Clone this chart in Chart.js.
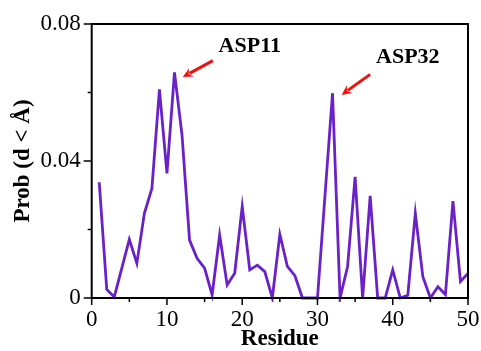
<!DOCTYPE html>
<html>
<head>
<meta charset="utf-8">
<script src="https://cdn.jsdelivr.net/npm/chart.js@4/dist/chart.umd.min.js"></script>
<style>
  body { margin: 0; background: #fff; }
  #wrap { width: 481px; height: 351px; }
</style>
</head>
<body>
<div id="wrap"><canvas id="grafico"></canvas></div>
<script>
// residue numbers and contact probability
const residuos = [1, 2, 3, 4, 5, 6, 7, 8, 9, 10,
  11, 12, 13, 14, 15, 16, 17, 18, 19, 20,
  21, 22, 23, 24, 25, 26, 27, 28, 29, 30,
  31, 32, 33, 34, 35, 36, 37, 38, 39, 40,
  41, 42, 43, 44, 45, 46, 47, 48, 49, 50];
const prob = [0.0338, 0.0025, 0.0003, 0.0087, 0.0171, 0.0101, 0.0247, 0.0320, 0.0609, 0.0364,
  0.0659, 0.0476, 0.0169, 0.0116, 0.0087, 0.0009, 0.0184, 0.0038, 0.0072, 0.0267,
  0.0082, 0.0096, 0.0077, 0.0000, 0.0186, 0.0092, 0.0065, 0.0000, 0.0000, 0.0000,
  0.0300, 0.0598, 0.0000, 0.0092, 0.0354, 0.0000, 0.0298, 0.0000, 0.0000, 0.0082,
  0.0000, 0.0008, 0.0247, 0.0062, 0.0000, 0.0033, 0.0010, 0.0283, 0.0048, 0.0072];

const xMaiores = [0, 10, 20, 30, 40, 50];
const xMenores = [5, 15, 25, 35, 45];
const yMaiores = [0, 0.04, 0.08];
const yMenores = [0.02, 0.06];

// labels with arrows: [text, textX, textY, tailX, tailY, headX, headY] in data units
const anotacoes = [
  ['ASP11', 21.0, 0.0736, 16.1, 0.0693, 12.1, 0.0645],
  ['ASP32', 42.0, 0.0704, 37.0, 0.0653, 33.2, 0.0593]
];

const serif = "'Liberation Serif', 'Times New Roman', serif";

function desenhaSeta(ctx, x1, y1, x2, y2) {
  const ang = Math.atan2(y2 - y1, x2 - x1);
  const tam = 11;
  ctx.strokeStyle = '#f01010';
  ctx.fillStyle = '#f01010';
  ctx.lineWidth = 3;
  ctx.beginPath();
  ctx.moveTo(x1, y1);
  ctx.lineTo(x2 - Math.cos(ang) * tam * 0.7, y2 - Math.sin(ang) * tam * 0.7);
  ctx.stroke();
  ctx.beginPath();
  ctx.moveTo(x2, y2);
  ctx.lineTo(x2 - tam * Math.cos(ang - 0.45), y2 - tam * Math.sin(ang - 0.45));
  ctx.lineTo(x2 - tam * 0.6 * Math.cos(ang), y2 - tam * 0.6 * Math.sin(ang));
  ctx.lineTo(x2 - tam * Math.cos(ang + 0.45), y2 - tam * Math.sin(ang + 0.45));
  ctx.closePath();
  ctx.fill();
}

const moldura = {
  id: 'moldura',
  afterDraw(chart) {
    const ctx = chart.ctx;
    const area = chart.chartArea;
    const sx = chart.scales.x, sy = chart.scales.y;
    ctx.save();
    ctx.strokeStyle = '#000';
    ctx.lineWidth = 2;
    ctx.strokeRect(area.left, area.top, area.right - area.left, area.bottom - area.top);
    ctx.lineWidth = 1.5;
    ctx.beginPath();
    xMaiores.forEach(v => { const p = sx.getPixelForValue(v); ctx.moveTo(p, area.bottom); ctx.lineTo(p, area.bottom + 7); });
    xMenores.forEach(v => { const p = sx.getPixelForValue(v); ctx.moveTo(p, area.bottom); ctx.lineTo(p, area.bottom + 4); });
    yMaiores.forEach(v => { const p = sy.getPixelForValue(v); ctx.moveTo(area.left, p); ctx.lineTo(area.left - 8, p); });
    yMenores.forEach(v => { const p = sy.getPixelForValue(v); ctx.moveTo(area.left, p); ctx.lineTo(area.left - 4, p); });
    ctx.stroke();

    anotacoes.forEach(a => {
      ctx.font = 'bold 22px ' + serif;
      ctx.fillStyle = '#000';
      ctx.textAlign = 'center';
      ctx.textBaseline = 'middle';
      ctx.fillText(a[0], sx.getPixelForValue(a[1]), sy.getPixelForValue(a[2]));
      desenhaSeta(ctx, sx.getPixelForValue(a[3]), sy.getPixelForValue(a[4]),
        sx.getPixelForValue(a[5]), sy.getPixelForValue(a[6]));
    });
    ctx.restore();
  }
};

const grafico = new Chart(document.getElementById('grafico'), {
  type: 'line',
  data: {
    datasets: [{
      label: 'Prob',
      data: residuos.map((r, i) => ({ x: r, y: prob[i] })),
      borderColor: '#6b21c8',
      borderWidth: 2.8,
      pointRadius: 0,
      tension: 0,
      clip: 4
    }]
  },
  options: {
    responsive: true,
    maintainAspectRatio: false,
    animation: false,
    layout: { padding: { top: 24, right: 13, left: 0, bottom: 0 } },
    plugins: { legend: { display: false }, tooltip: { enabled: false } },
    scales: {
      x: {
        type: 'linear',
        min: 0,
        max: 50,
        grid: { display: false, drawTicks: false },
        border: { display: false },
        ticks: { stepSize: 10, color: '#000', padding: 8, maxRotation: 0, font: { family: serif, size: 23 } },
        title: { display: true, text: 'Residue', color: '#000', padding: 0,
          font: { family: serif, size: 23, weight: 'bold', lineHeight: 1 } },
        afterFit(scale) { scale.height = 53; scale.paddingLeft = 0; scale.paddingRight = 0; }
      },
      y: {
        min: 0,
        max: 0.08,
        grid: { display: false, drawTicks: false },
        border: { display: false },
        ticks: { stepSize: 0.04, color: '#000', padding: 11, font: { family: serif, size: 23 } },
        title: { display: true, text: 'Prob (d < Å)', color: '#000', padding: { top: 12, bottom: 0 },
          font: { family: serif, size: 23, weight: 'bold', lineHeight: 1 } },
        afterFit(scale) { scale.width = 91.7; scale.paddingTop = 0; scale.paddingBottom = 0; }
      }
    }
  },
  plugins: [moldura]
});
</script>
</body>
</html>
